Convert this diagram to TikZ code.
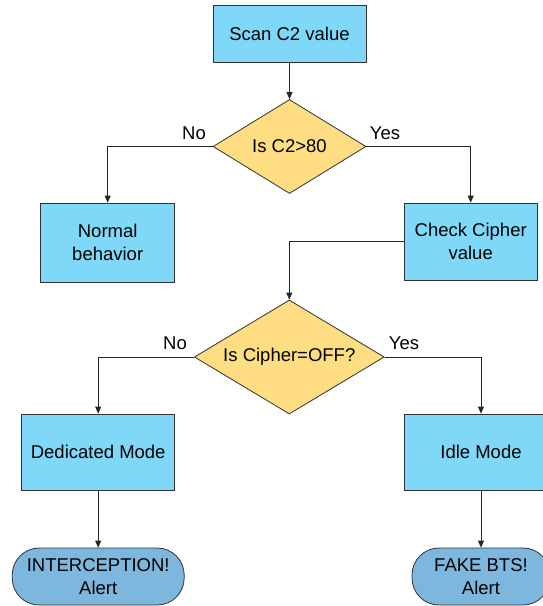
\documentclass[tikz,border=0pt]{standalone}
\usepackage{fontspec}
\setmainfont{Liberation Sans}
\usetikzlibrary{shapes.geometric,arrows.meta}
\definecolor{boxblue}{RGB}{128,216,248}
\definecolor{decyellow}{RGB}{255,221,130}
\definecolor{termblue}{RGB}{126,183,222}
\definecolor{edgegray}{RGB}{50,50,50}
\tikzset{
  every node/.style={font=\fontsize{18.5}{22.5}\selectfont},
  procbox/.style={rectangle, draw=edgegray, line width=0.8pt, fill=boxblue, align=center, inner sep=0pt},
  decision/.style={diamond, draw=edgegray, line width=0.8pt, fill=decyellow, align=center, inner sep=0pt},
  terminal/.style={rectangle, rounded corners=27pt, draw=edgegray, line width=0.8pt, fill=termblue, align=center, inner sep=0pt},
  conn/.style={draw=black!85, line width=0.8pt, -{Triangle[length=7pt,width=6pt]}},
  lbl/.style={inner sep=0pt}
}
\begin{document}
\begin{tikzpicture}[x=1pt,y=-1pt]
\clip (0,0) rectangle (543,606);
\fill[white] (0,0) rectangle (543,606);

\node[procbox, minimum width=153pt, minimum height=57pt] (scan) at (289.5,33.5) {Scan C2 value};
\node[decision, aspect=1.63, minimum width=153pt, minimum height=94pt] (d1) at (289.5,146.5) {Is C2>80};
\node[procbox, minimum width=134pt, minimum height=79pt] (normal) at (107.7,242.5) {Normal\\behavior};
\node[procbox, minimum width=133.5pt, minimum height=77pt] (check) at (470.7,241.5) {Check Cipher\\value};
\node[decision, aspect=1.667, minimum width=190pt, minimum height=114pt] (d2) at (289.3,357) {Is Cipher=OFF?};
\node[procbox, minimum width=153pt, minimum height=76pt] (ded) at (98.2,452) {Dedicated Mode};
\node[procbox, minimum width=154pt, minimum height=76pt] (idle) at (481,452) {Idle Mode};
\node[terminal, minimum width=172pt, minimum height=57pt] (t1) at (98.2,576.5) {INTERCEPTION!\\Alert};
\node[terminal, minimum width=138pt, minimum height=57pt] (t2) at (481,576.5) {FAKE BTS!\\Alert};

\node[lbl] (no1) at (194,133) {No};
\node[lbl] (yes1) at (385,133) {Yes};
\node[lbl] (no2) at (175,343) {No};
\node[lbl] (yes2) at (404,343) {Yes};

\draw[conn] (scan) -- (d1);
\draw[conn] (d1.west) -| (normal.north);
\draw[conn] (d1.east) -| (check.north);
\draw[conn] (check.west) -| (d2.north);
\draw[conn] (d2.west) -| (ded.north);
\draw[conn] (d2.east) -| (idle.north);
\draw[conn] (ded) -- (t1);
\draw[conn] (idle) -- (t2);
\end{tikzpicture}
\end{document}
